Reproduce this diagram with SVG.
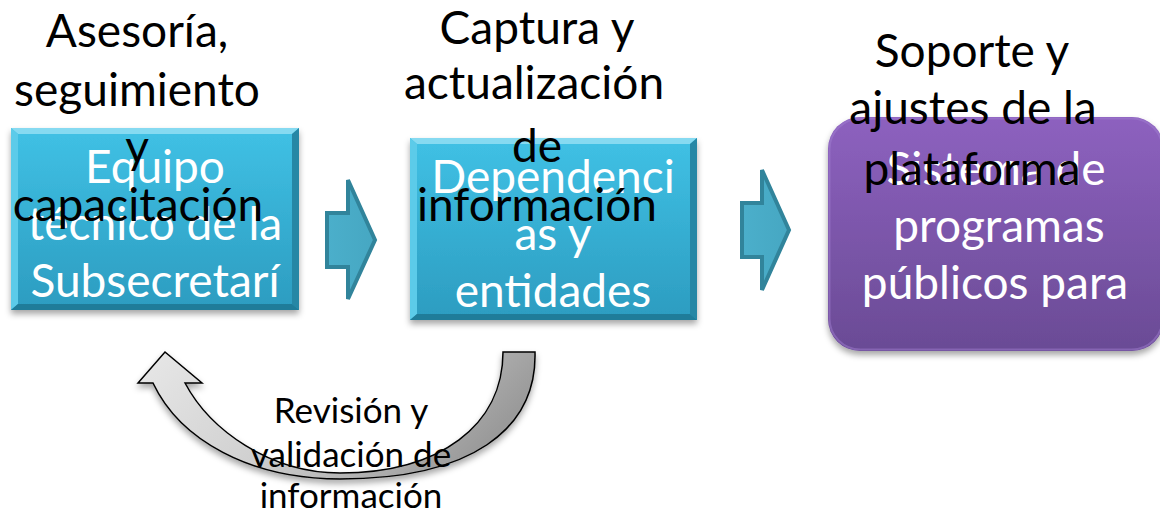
<svg xmlns="http://www.w3.org/2000/svg" width="1160" height="513" viewBox="0 0 1160 513">
<defs>
<style>
.lbl{font-family:Lato,"Liberation Sans",sans-serif;font-size:46px;fill:#000;text-anchor:middle}
.wt{font-family:Lato,"Liberation Sans",sans-serif;font-size:46px;fill:#fff;text-anchor:middle}
.rv{font-family:Lato,"Liberation Sans",sans-serif;font-size:35px;fill:#000;text-anchor:middle}
.blk{stroke:#31849b;stroke-width:4;fill:url(#ag);stroke-linejoin:miter}
</style>
<linearGradient id="bg" x1="0" y1="0" x2="0" y2="1">
<stop offset="0" stop-color="#40c1e5"/>
<stop offset="1" stop-color="#2c9cc0"/>
</linearGradient>
<linearGradient id="pg" x1="0" y1="0" x2="0" y2="1">
<stop offset="0" stop-color="#8d61bf"/>
<stop offset="1" stop-color="#6a4b95"/>
</linearGradient>
<linearGradient id="ag" x1="0" y1="0" x2="1" y2="0">
<stop offset="0" stop-color="#4bafcb"/>
<stop offset="1" stop-color="#46a7c2"/>
</linearGradient>
<linearGradient id="cg" x1="0" y1="0" x2="1" y2="0.3">
<stop offset="0" stop-color="#e8e8e8"/>
<stop offset="0.5" stop-color="#d0d0d0"/>
<stop offset="1" stop-color="#9a9a9a"/>
</linearGradient>
<filter id="sh" x="-10%" y="-10%" width="120%" height="130%">
<feDropShadow dx="0" dy="4" stdDeviation="3" flood-color="#000" flood-opacity="0.35"/>
</filter>
</defs>

<g id="node-equipo">
<g filter="url(#sh)">
<rect x="11" y="128" width="288" height="182" fill="url(#bg)"/>
</g>
<polygon points="11,128 299,128 292,134 18,134" fill="#86daf1"/>
<polygon points="11,128 18,134 18,304 11,310" fill="#5ccbe9"/>
<polygon points="299,128 299,310 292,304 292,134" fill="#2687a5"/>
<polygon points="11,310 299,310 292,304 18,304" fill="#1f7c99"/>
<text class="wt" x="155" y="183">Equipo</text>
<text class="wt" x="155" y="240">técnico de la</text>
<text class="wt" x="155" y="297">Subsecretarí</text>
</g>

<g id="node-dependencias">
<g filter="url(#sh)">
<rect x="410" y="138" width="287" height="182" fill="url(#bg)"/>
</g>
<polygon points="410,138 697,138 690,144 417,144" fill="#86daf1"/>
<polygon points="410,138 417,144 417,314 410,320" fill="#5ccbe9"/>
<polygon points="697,138 697,320 690,314 690,144" fill="#2687a5"/>
<polygon points="410,320 697,320 690,314 417,314" fill="#1f7c99"/>
<text class="wt" x="553" y="193">Dependenci</text>
<text class="wt" x="553" y="250">as y</text>
<text class="wt" x="553" y="307">entidades</text>
</g>

<g id="node-sistema">
<rect x="828" y="117" width="336" height="234" rx="32" ry="32" fill="url(#pg)" filter="url(#sh)"/>
<rect x="829.5" y="118.5" width="333" height="231" rx="31" ry="31" fill="none" stroke="#a07ed0" stroke-opacity="0.5" stroke-width="2"/>
<text class="wt" x="996" y="185">Sistema de</text>
<text class="wt" x="999" y="242">programas</text>
<text class="wt" x="995" y="299">públicos para</text>
</g>

<g id="connectors">
<polygon class="blk" points="327,213 348,213 348,180 375,240 348,299 348,267 327,267"/>
<polygon class="blk" points="742,203 762,203 762,170 789,230 762,290 762,257 742,257"/>
<path d="M503,352 L535,352 C537,430 470,479 340,479 C250,479 180,440 153,383 L138,383 L165,352 L202,383 L185,383 C210,430 270,473 340,473 C440,473 503,425 503,352 Z" fill="url(#cg)" stroke="#000" stroke-width="1.5" stroke-linejoin="miter" filter="url(#sh)"/>
</g>

<g id="labels">
<text class="lbl" x="137" y="47">Asesoría,</text>
<text class="lbl" x="137" y="106">seguimiento</text>
<text class="lbl" x="137" y="163">y</text>
<text class="lbl" x="138" y="221">capacitación</text>
<text class="lbl" x="537" y="44">Captura y</text>
<text class="lbl" x="534" y="99">actualización</text>
<text class="lbl" x="537" y="162">de</text>
<text class="lbl" x="537" y="221">información</text>
<text class="lbl" x="972" y="67">Soporte y</text>
<text class="lbl" x="973" y="124">ajustes de la</text>
<text class="lbl" x="972" y="185">plataforma</text>
<text class="rv" x="351" y="423">Revisión y</text>
<text class="rv" x="351" y="467">validación de</text>
<text class="rv" x="351" y="508">información</text>
</g>
</svg>
